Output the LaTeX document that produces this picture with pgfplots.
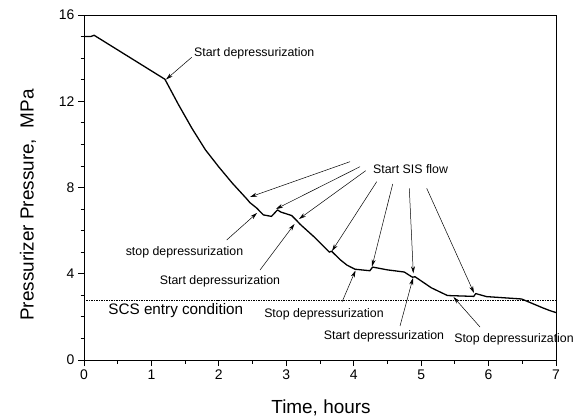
\documentclass[border=0pt]{standalone}
\usepackage{fontspec}
\setmainfont{Liberation Sans}
\usepackage{pgfplots}
\pgfplotsset{compat=1.18}
\usetikzlibrary{arrows.meta}
\begin{document}
\begin{tikzpicture}
\useasboundingbox (0bp,0bp) rectangle (574bp,419bp);
\begin{axis}[at={(84bp,59bp)}, anchor=south west, scale only axis,
  width=472bp, height=345bp,
  xmin=0, xmax=7, ymin=0, ymax=16,
  xtick={0,...,7}, ytick={0,4,...,16},
  minor x tick num=1, minor y tick num=3,
  tick align=outside, tick pos=left,
  major tick length=6bp, minor tick length=3.5bp,
  axis line style={line width=0.9pt},
  tick style={black, line width=0.8pt},
  minor tick style={black, line width=0.8pt},
  tick label style={font=\fontsize{14}{16}\selectfont},
  /pgf/number format/assume math mode=true,
  clip=false]
\addplot[line width=0.4pt, dash pattern=on 1.5pt off 1pt] coordinates {(0,2.78) (7,2.78)};
\addplot[line width=1.3pt, line join=round, mark=none] coordinates {
(0,15.0) (0.1,15.0) (0.15,15.06) (1.2,13.02) (1.4,11.85) (1.6,10.75) (1.8,9.75) (2.0,8.95) (2.2,8.2)
(2.42,7.45) (2.46,7.30) (2.56,7.05) (2.66,6.73) (2.78,6.66) (2.87,6.96) (2.92,6.86)
(3.08,6.70) (3.16,6.45) (3.20,6.31) (3.43,5.66) (3.64,5.0) (3.67,5.05) (3.8,4.65)
(3.9,4.4) (4.02,4.21) (4.24,4.14) (4.28,4.31) (4.5,4.18) (4.75,4.08) (4.87,3.84)
(4.91,3.86) (5.15,3.35) (5.39,2.99) (5.78,2.95) (5.81,3.08) (5.97,2.94) (6.49,2.83)
(6.65,2.62) (6.81,2.41) (6.91,2.29) (7.0,2.2)};
\end{axis}
\tikzset{ann/.style={-{Stealth[length=7bp,width=4bp]}, line width=0.5pt},
  annfont/.style={font=\fontsize{12.4}{14}\selectfont, inner sep=0pt}}
% labels
\node[rotate=90, font=\fontsize{19}{22}\selectfont] at (28bp,214bp) {Pressurizer Pressure,\ \ MPa};
\node[font=\fontsize{19}{22}\selectfont] at (321bp,11bp) {Time, hours};
% SCS
\node[font=\fontsize{15.3}{18}\selectfont, inner sep=0pt] at (175.8bp,108bp) {SCS entry condition};
% Start depressurization (top)
\node[annfont, anchor=west] at (194bp,366bp) {Start depressurization};
\draw[ann] (191.7bp,361.7bp) -- (166bp,339.5bp);
% Start SIS flow
\node[annfont, anchor=west] at (373bp,250bp) {Start SIS flow};
\draw[ann] (350bp,257.3bp) -- (250bp,222bp);
\draw[ann] (360bp,252.3bp) -- (276bp,210bp);
\draw[ann] (365.7bp,248.3bp) -- (299bp,200bp);
\draw[ann] (376.7bp,237.3bp) -- (332bp,168bp);
\draw[ann] (392.7bp,235bp) -- (372bp,152.5bp);
\draw[ann] (409.3bp,230.7bp) -- (413.3bp,145.7bp);
\draw[ann] (426.7bp,230.7bp) -- (474bp,126bp);
% stop depressurization
\node[annfont] at (184.5bp,167bp) {stop depressurization};
\draw[ann] (226.7bp,179bp) -- (257bp,206bp);
% Start depressurization 2
\node[annfont] at (220bp,137.3bp) {Start depressurization};
\draw[ann] (260bp,149bp) -- (294.5bp,195bp);
% Stop depressurization 3
\node[annfont] at (324bp,104.5bp) {Stop depressurization};
\draw[ann] (342bp,117bp) -- (355.5bp,148.5bp);
% Start depressurization 4
\node[annfont] at (384bp,83bp) {Start depressurization};
\draw[ann] (400bp,93bp) -- (413bp,141bp);
% Stop depressurization 5
\node[annfont] at (514bp,79.7bp) {Stop depressurization};
\draw[ann] (480bp,92bp) -- (453.5bp,122bp);
\end{tikzpicture}
\end{document}
